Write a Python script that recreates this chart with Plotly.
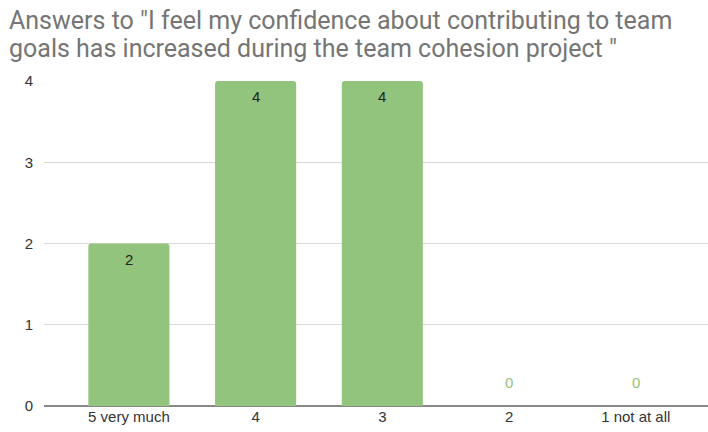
import plotly.graph_objects as go

# Survey answers
categories = ["5 very much", "4", "3", "2", "1 not at all"]
counts = [2, 4, 4, 0, 0]
y_ticks = [0, 1, 2, 3, 4]

title_lines = ['Answers to "I feel my confidence about contributing to team',
               'goals has increased during the team cohesion project "']

BAR_COLOR = "#93c47d"
FONT = "Liberation Sans, Arial, sans-serif"
TITLE_FONT = "Roboto, Arial, sans-serif"

fig = go.Figure(
    go.Bar(
        x=list(range(len(categories))),
        y=counts,
        marker=dict(color=BAR_COLOR, cornerradius=3, line=dict(width=0)),
        width=0.64,
        hovertext=categories,
        hoverinfo="text+y",
    )
)

# Value labels: inside the bar top for non-zero, just above baseline in green for zero
for i, val in enumerate(counts):
    if val > 0:
        fig.add_annotation(x=i, y=val, text=str(val), showarrow=False,
                           yanchor="top", yshift=-5,
                           font=dict(family=FONT, size=15, color="#222222"))
    else:
        fig.add_annotation(x=i, y=val, text=str(val), showarrow=False,
                           yanchor="bottom", yshift=13,
                           font=dict(family=FONT, size=15, color=BAR_COLOR))

# Two-line chart title, top-left
for line, shift in zip(title_lines, [61, 33]):
    fig.add_annotation(
        text=line, showarrow=False, align="left",
        xref="paper", x=0, xanchor="left", xshift=-37,
        yref="paper", y=1, yanchor="middle", yshift=shift,
        font=dict(family=TITLE_FONT, size=25, color="#757575"),
    )

fig.update_layout(
    width=708,
    height=432,
    margin=dict(l=44, r=0, t=81, b=26),
    paper_bgcolor="white",
    plot_bgcolor="white",
    showlegend=False,
    font=dict(family=FONT, size=15, color="#444444"),
    xaxis=dict(
        range=[-0.67, 4.57],
        tickvals=list(range(len(categories))),
        ticktext=categories,
        showgrid=False,
        showline=False,
        zeroline=False,
        ticks="",
        tickfont=dict(size=15, color="#333333"),
    ),
    yaxis=dict(
        range=[0, 4],
        tickvals=y_ticks,
        showgrid=True,
        gridcolor="#d9d9d9",
        gridwidth=1,
        zeroline=True,
        zerolinecolor="#888888",
        zerolinewidth=2,
        ticks="outside",
        ticklen=7,
        tickcolor="rgba(0,0,0,0)",
        tickfont=dict(size=15, color="#333333"),
    ),
)

fig.write_html("out.html")
